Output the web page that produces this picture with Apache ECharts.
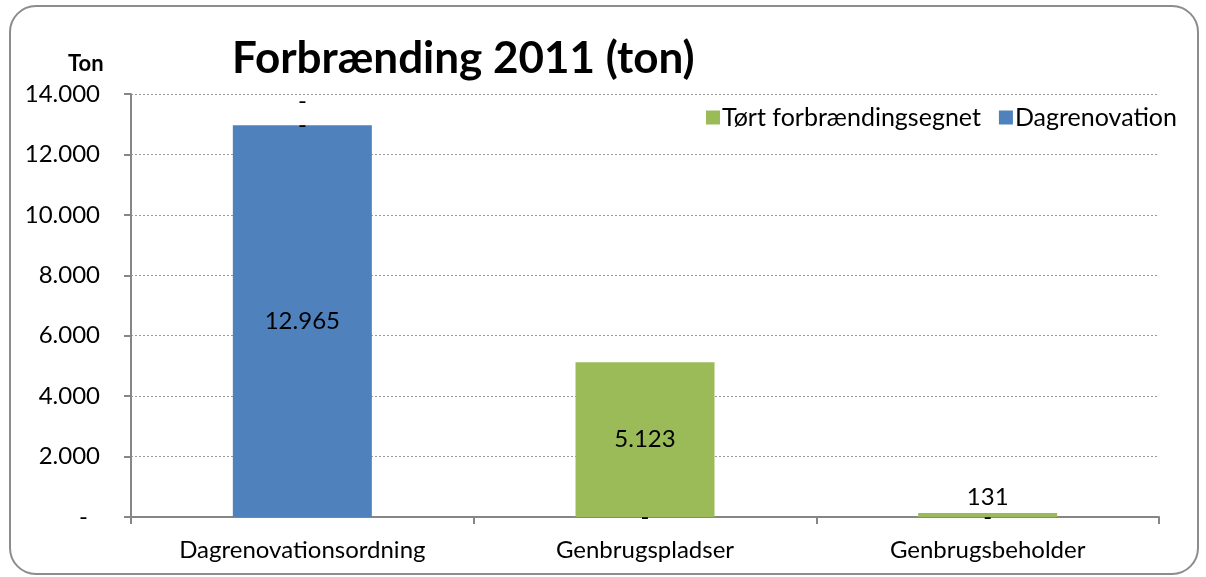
<!DOCTYPE html>
<html>
<head>
<meta charset="utf-8">
<script src="https://cdn.jsdelivr.net/npm/echarts@6/dist/echarts.min.js"></script>
<style>
  html, body { margin: 0; padding: 0; background: #fff; }
  #chart { width: 1206px; height: 577px; }
</style>
</head>
<body>
<div id="chart"></div>
<script>
var categories = ['Dagrenovationsordning', 'Genbrugspladser', 'Genbrugsbeholder'];
var dagrenovation = [12965, 0, 0];
var toertForbr = [0, 5123, 131];
var extraLabel = [0, null, null];
var yTicks = [0, 2000, 4000, 6000, 8000, 10000, 12000, 14000];

var FONT = 'Lato';

function fmt(v) {
	if (v === 0) return '-';
	return String(v).replace(/\B(?=(\d{3})+(?!\d))/g, '.');
}

var chart = echarts.init(document.getElementById('chart'));
chart.setOption({
	animation: false,
	textStyle: { fontFamily: FONT },
	graphic: [{
		type: 'rect',
		shape: { x: 10, y: 6, width: 1188, height: 568, r: 26 },
		style: { fill: 'none', stroke: '#8c8c8c', lineWidth: 2 },
		z: -1
	}],
	title: [{
		text: 'Forbrænding 2011 (ton)',
		left: 227,
		top: 32,
		textStyle: { fontFamily: FONT, fontSize: 44, fontWeight: 'bold', color: '#000' }
	}, {
		text: 'Ton',
		left: 63,
		top: 48,
		textStyle: { fontFamily: FONT, fontSize: 22, fontWeight: 'bold', color: '#000' }
	}],
	legend: {
		data: ['Tørt forbrændingsegnet', 'Dagrenovation'],
		right: 24,
		top: 100,
		itemWidth: 14,
		itemHeight: 14,
		itemGap: 18,
		icon: 'rect',
		textStyle: { fontFamily: FONT, fontSize: 25, color: '#000', padding: [0, 0, 0, -3] }
	},
	grid: { left: 131, right: 47, top: 94, bottom: 60 },
	xAxis: {
		type: 'category',
		data: categories,
		axisLine: { lineStyle: { color: '#868686', width: 2 } },
		axisTick: { show: true, length: 7, lineStyle: { color: '#868686', width: 2 } },
		axisLabel: { fontFamily: FONT, fontSize: 24, color: '#000', margin: 21 }
	},
	yAxis: {
		type: 'value',
		min: yTicks[0],
		max: yTicks[yTicks.length - 1],
		interval: 2000,
		axisLine: { show: true, lineStyle: { color: '#868686', width: 2 } },
		axisTick: { show: true, length: 7, lineStyle: { color: '#868686', width: 2 } },
		splitLine: { lineStyle: { color: '#9a9a9a', type: [2, 2], width: 1 } },
		axisLabel: {
			fontFamily: FONT, fontSize: 24, color: '#000', margin: 31,
			formatter: function (v) { return v === 0 ? '{d|-}' : fmt(v); },
			rich: { d: { fontFamily: FONT, fontSize: 24, color: '#000', padding: [0, 12, 0, 0] } }
		}
	},
	series: [{
		name: 'Dagrenovation',
		type: 'bar',
		stack: 'total',
		barWidth: 139,
		data: dagrenovation,
		itemStyle: { color: '#4F81BD' },
		label: {
			show: true, position: 'inside', fontFamily: FONT, fontSize: 24, color: '#000',
			formatter: function (p) { return fmt(p.value); }
		}
	}, {
		name: 'Tørt forbrændingsegnet',
		type: 'bar',
		stack: 'total',
		barWidth: 139,
		data: toertForbr.map(function (v) {
			if (v > 0 && v < 500) return { value: v, label: { position: 'top', distance: 4 } };
			return v;
		}),
		itemStyle: { color: '#9BBB59' },
		label: {
			show: true, position: 'inside', fontFamily: FONT, fontSize: 24, color: '#000',
			formatter: function (p) { return fmt(p.value); }
		}
	}, {
		name: 'extra',
		type: 'bar',
		stack: 'total',
		barWidth: 139,
		data: extraLabel,
		itemStyle: { color: 'transparent' },
		label: {
			show: true, position: 'top', distance: 12, fontFamily: FONT, fontSize: 24, color: '#000',
			formatter: function (p) { return fmt(p.value); }
		}
	}]
});
</script>
</body>
</html>
